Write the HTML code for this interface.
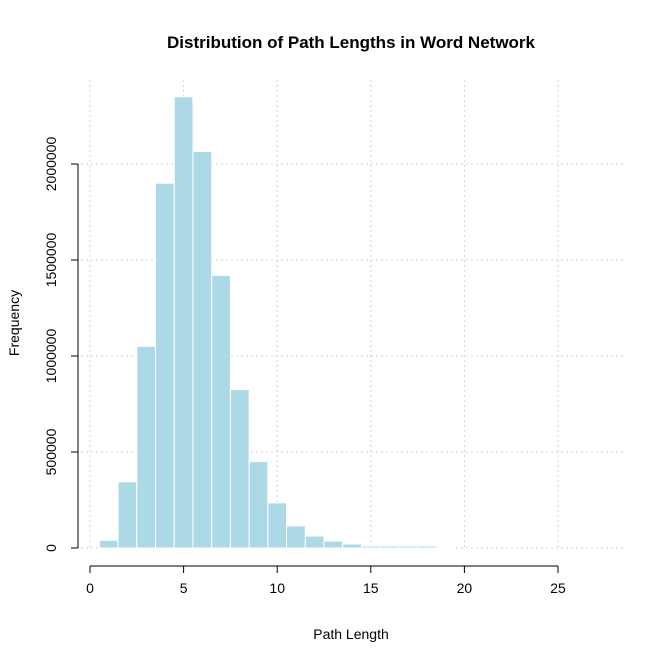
<!DOCTYPE html>
<html><head><meta charset="utf-8"><style>
body{margin:0;background:#fff}
svg text{font-family:"Liberation Sans",Arial,sans-serif;fill:#000}
</style></head><body>
<svg width="664" height="664">
<g id="grid"></g>
<g id="bars"></g>
<g id="axes"></g>
<text x="351" y="48" text-anchor="middle" font-weight="bold" font-size="17">Distribution of Path Lengths in Word Network</text>
<text x="351" y="639" text-anchor="middle" font-size="14">Path Length</text>
<text transform="translate(19,323) rotate(-90)" text-anchor="middle" font-size="14">Frequency</text>
</svg>
<script>
const binCenters=[1,2,3,4,5,6,7,8,9,10,11,12,13,14,15,16,17,18,19];
const counts=[40000,345000,1050000,1900000,2350000,2065000,1420000,825000,450000,235000,115000,62500,36000,21000,10000,10000,10000,10000,5000];
const xTicks=[0,5,10,15,20,25];
const yTicks=[0,500000,1000000,1500000,2000000];
const X=v=>90+v*18.72;
const Y=v=>548-v*96/500000;
const NS="http://www.w3.org/2000/svg";
function mk(p,t,a){const e=document.createElementNS(NS,t);for(const k in a)e.setAttribute(k,a[k]);p.appendChild(e);return e;}
const grid=document.getElementById('grid'),bars=document.getElementById('bars'),axes=document.getElementById('axes');
xTicks.forEach(t=>{const l=mk(grid,'line',{x1:X(t),x2:X(t),y1:80,y2:548,stroke:'#d3d3d3','stroke-dasharray':'2,3'});

});
yTicks.forEach(t=>{const l=mk(grid,'line',{x1:76,x2:626,y1:Y(t),y2:Y(t),stroke:'#d3d3d3','stroke-dasharray':'2,3'});

});
binCenters.forEach((c,i)=>{const r=mk(bars,'rect',{x:X(c-0.5),y:Y(counts[i]),width:X(c+0.5)-X(c-0.5),height:Y(0)-Y(counts[i]),fill:'#add8e6',stroke:'#fff','stroke-width':1});

});
mk(axes,'line',{x1:X(0),x2:X(25),y1:566,y2:566,stroke:'#000'});
xTicks.forEach(t=>{mk(axes,'line',{x1:X(t),x2:X(t),y1:566,y2:573,stroke:'#000'});
const tx=mk(axes,'text',{x:X(t),y:593,'text-anchor':'middle','font-size':14});tx.textContent=t;

});
mk(axes,'line',{x1:78,x2:78,y1:Y(0),y2:Y(2000000),stroke:'#000'});
yTicks.forEach(t=>{mk(axes,'line',{x1:71,x2:78,y1:Y(t),y2:Y(t),stroke:'#000'});
const tx=mk(axes,'text',{transform:`translate(56,${Y(t)}) rotate(-90)`,'text-anchor':'middle','font-size':14});tx.textContent=t;

});
</script>
</body></html>
